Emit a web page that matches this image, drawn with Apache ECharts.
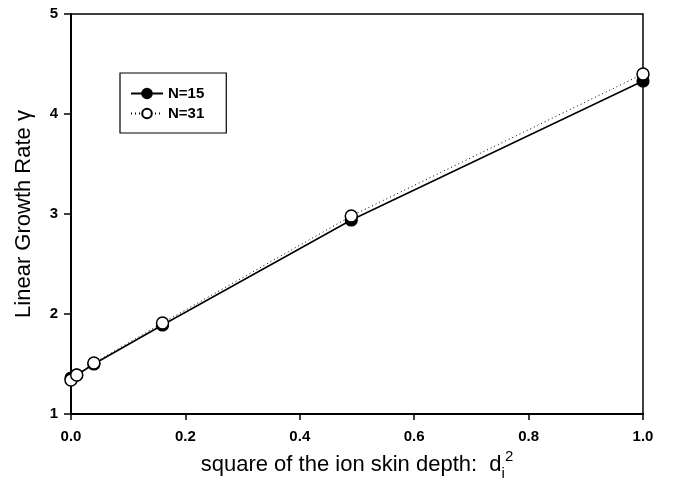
<!DOCTYPE html>
<html>
<head>
<meta charset="utf-8">
<script src="https://cdn.jsdelivr.net/npm/echarts@6/dist/echarts.min.js"></script>
<style>
  html, body { margin: 0; padding: 0; background: #fff; }
  #chart { width: 674px; height: 488px; }
</style>
</head>
<body>
<div id="chart"></div>
<script>
// squared ion skin depth d_i^2
var depthSq = [0, 0.01, 0.04, 0.16, 0.49, 1.0];
// linear growth rate for the two resolutions
var growthN15 = [1.36, 1.39, 1.50, 1.89, 2.94, 4.33];
var growthN31 = [1.34, 1.39, 1.51, 1.91, 2.98, 4.40];
var seriesNames = ['N=15', 'N=31'];

function pairs(xs, ys) {
  return xs.map(function (x, i) { return [x, ys[i]]; });
}

var FONT = 'Liberation Sans, Arial, sans-serif';
var chart = echarts.init(document.getElementById('chart'), null, { renderer: 'canvas' });

chart.setOption({
  animation: false,
  backgroundColor: '#fff',
  grid: {
    left: 71, right: 31, top: 14, bottom: 74,
    show: true, borderColor: '#000', borderWidth: 1.5
  },
  legend: {
    left: 120, top: 73,
    orient: 'vertical',
    padding: [13, 22, 12, 10],
    itemGap: 5,
    itemWidth: 32, itemHeight: 12,
    backgroundColor: '#fff',
    borderColor: '#000', borderWidth: 1.2,
    textStyle: { fontFamily: FONT, fontWeight: 'bold', fontSize: 15, color: '#000' },
    data: seriesNames
  },
  xAxis: {
    type: 'value', min: 0, max: 1, interval: 0.2,
    axisLine: { show: true, lineStyle: { color: '#000', width: 2 } },
    axisTick: { show: true, inside: false, length: 6, lineStyle: { color: '#000', width: 1.5 } },
    splitLine: { show: false },
    axisLabel: {
      margin: 15, color: '#000', fontFamily: FONT, fontWeight: 'bold', fontSize: 15,
      formatter: function (v) { return v.toFixed(1); }
    },
    name: '{a|square of the ion skin depth:  d}{sub|i}{sup|2}',
    nameLocation: 'middle', nameGap: 34,
    nameTextStyle: {
      color: '#000', fontFamily: FONT,
      rich: {
        a: { fontSize: 22, fontFamily: FONT, color: '#000', lineHeight: 32 },
        sub: { fontSize: 15, fontFamily: FONT, color: '#000', verticalAlign: 'bottom', lineHeight: 32 },
        sup: { fontSize: 15, fontFamily: FONT, color: '#000', verticalAlign: 'top', lineHeight: 32 }
      }
    }
  },
  yAxis: {
    type: 'value', min: 1, max: 5, interval: 1,
    axisLine: { show: true, lineStyle: { color: '#000', width: 2 } },
    axisTick: { show: true, inside: false, length: 7, lineStyle: { color: '#000', width: 1.5 } },
    splitLine: { show: false },
    axisLabel: {
      margin: 13, color: '#000', fontFamily: FONT, fontWeight: 'bold', fontSize: 15
    },
    name: 'Linear Growth Rate γ',
    nameLocation: 'middle', nameGap: 36,
    nameTextStyle: { color: '#000', fontFamily: FONT, fontSize: 22 }
  },
  series: [
    {
      name: seriesNames[0], type: 'line',
      data: pairs(depthSq, growthN15),
      symbol: 'circle', symbolSize: 12,
      lineStyle: { color: '#000', width: 1.5, type: 'solid' },
      itemStyle: { color: '#000', borderColor: '#000', borderWidth: 1.2 }
    },
    {
      name: seriesNames[1], type: 'line',
      data: pairs(depthSq, growthN31),
      symbol: 'circle', symbolSize: 12,
      lineStyle: { color: '#000', width: 1, type: [1, 3] },
      itemStyle: { color: '#fff', borderColor: '#000', borderWidth: 1.5 }
    }
  ]
});
</script>
</body>
</html>
